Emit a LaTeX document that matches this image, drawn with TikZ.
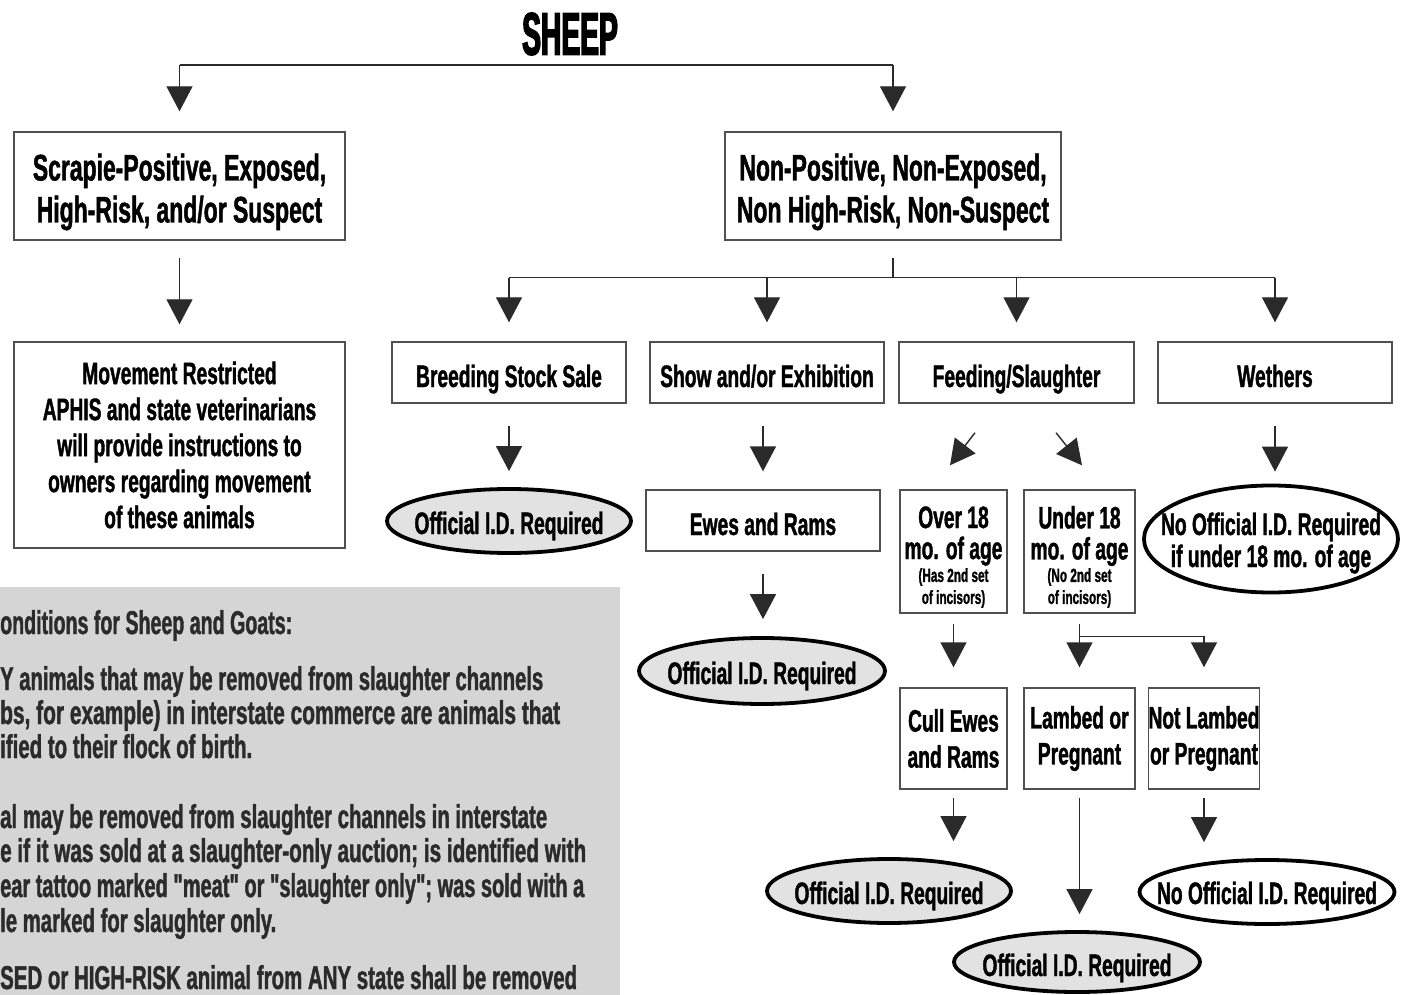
\documentclass[tikz,border=0pt]{standalone}
\usepackage{fontspec}
\usepackage{graphicx}
\setmainfont{Liberation Sans}[FakeStretch=0.62, BoldFeatures={FakeBold=1.2}]
\newfontfamily\nomapfont{Liberation Sans}[FakeStretch=0.62, BoldFeatures={FakeBold=1.2}, Ligatures=TeXOff]
\newfontfamily\titlefont{Liberation Sans}[FakeStretch=0.47,FakeBold=2.5]
\usetikzlibrary{arrows.meta,shapes.geometric,calc}
\definecolor{panelgray}{HTML}{D5D5D5}
\definecolor{ovalgray}{HTML}{E2E2E2}
\definecolor{linegray}{HTML}{2A2A2A}
\definecolor{boxgray}{HTML}{505050}
\definecolor{ptextcol}{HTML}{2B2B2B}
\newcommand{\plinefit}[2]{\resizebox{#1}{\height}{#2}}
\begin{document}
\begin{tikzpicture}[x=1pt,y=-1pt,
  box/.style={draw=boxgray, line width=1.4pt, fill=white, inner sep=0pt, align=center, font=\bfseries\fontsize{31}{36}\selectfont},
  onebox/.style={box, text height=29pt, text depth=0pt},
  oval/.style={ellipse, draw=black, line width=3.8pt, inner sep=0pt},
  grayoval/.style={oval, fill=ovalgray},
  whiteoval/.style={oval, fill=white},
  ovaltext/.style={anchor=base, inner sep=0pt, font=\bfseries\fontsize{31}{33}\selectfont},
  conn/.style={draw=linegray, line width=1.4pt},
  arr/.style={conn, -{Triangle[width=26pt,length=25pt]}},
  ptext/.style={anchor=base west, inner sep=0pt, text=ptextcol, font=\bfseries\fontsize{33}{35}\selectfont},
  bigtext/.style={inner sep=0pt, align=center, font=\bfseries\fontsize{37}{42}\selectfont},
  lbl/.style={inner sep=0pt, align=center, font=\bfseries\fontsize{31}{31}\selectfont},
  smalllbl/.style={inner sep=0pt, align=center, font=\bfseries\fontsize{19}{22}\selectfont},
]
\clip (0,0) rectangle (1401,995);
\fill[white] (0,0) rectangle (1401,995);

% ---- grey panel with notes ----
\fill[panelgray] (0,587) rectangle (620,995);
\node[ptext] (p1) at (0,634) {\plinefit{292pt}{onditions for Sheep and Goats:}};
\node[ptext] (p2) at (0,690) {\plinefit{543pt}{Y animals that may be removed from slaughter channels}};
\node[ptext] (p3) at (0,724) {\plinefit{560pt}{bs, for example) in interstate commerce are animals that}};
\node[ptext] (p4) at (0,758) {\plinefit{252pt}{ified to their flock of birth.}};
\node[ptext] (p5) at (0,828) {\plinefit{547pt}{al may be removed from slaughter channels in interstate}};
\node[ptext] (p6) at (0,862) {\plinefit{586pt}{e if it was sold at a slaughter-only auction; is identified with}};
\node[ptext] (p7) at (0,897) {\plinefit{584pt}{\nomapfont\bfseries ear tattoo marked "meat" or "slaughter only"; was sold with a}};
\node[ptext] (p8) at (0,932) {\plinefit{276pt}{le marked for slaughter only.}};
\node[ptext] (p9) at (0,989) {\plinefit{577pt}{SED or HIGH-RISK animal from ANY state shall be removed}};

% ---- title ----
\node[inner sep=0pt, font=\titlefont\bfseries\fontsize{60}{60}\selectfont] (title) at (570,34) {SHEEP};

% ---- boxes ----
\node[box, minimum width=331pt, minimum height=108pt] (b1) at (179.5,186) {};
\node[bigtext] (b1t) at (179.5,192) {Scrapie-Positive, Exposed,\\High-Risk, and/or Suspect};
\node[box, minimum width=336pt, minimum height=108pt] (b2) at (893,186) {};
\node[bigtext] (b2t) at (893,192) {Non-Positive, Non-Exposed,\\Non High-Risk, Non-Suspect};
\node[box, minimum width=331pt, minimum height=206pt] (mr) at (179.5,445) {Movement Restricted\\APHIS and state veterinarians\\will provide instructions to\\owners regarding movement\\of these animals};

\node[onebox, minimum width=234pt, minimum height=61pt] (bss) at (509,372.5) {Breeding Stock Sale};
\node[onebox, minimum width=234pt, minimum height=61pt] (show) at (767,372.5) {Show and/or Exhibition};
\node[onebox, minimum width=235pt, minimum height=61pt] (feed) at (1016.5,372.5) {Feeding/Slaughter};
\node[onebox, minimum width=234pt, minimum height=61pt] (weth) at (1275,372.5) {Wethers};

\node[onebox, minimum width=234pt, minimum height=61pt] (ewes) at (763,520.5) {Ewes and Rams};
\node[box, minimum width=107pt, minimum height=123pt] (over) at (953.5,551.5) {};
\node[box, minimum width=111pt, minimum height=123pt] (under) at (1079.5,551.5) {};
\node[lbl] (overT) at (953.5,536) {Over 18\\mo. of age};
\node[smalllbl] (overS) at (953.5,588) {(Has 2nd set\\of incisors)};
\node[lbl] (underT) at (1079.5,536) {Under 18\\mo. of age};
\node[smalllbl] (underS) at (1079.5,588) {(No 2nd set\\of incisors)};

\node[box, minimum width=107pt, minimum height=101pt] (cull) at (953.5,738.5) {Cull Ewes\\and Rams};
\node[box, minimum width=111pt, minimum height=101pt] (lamb) at (1079.5,738.5) {Lambed or\\Pregnant};
\node[box, minimum width=110pt, minimum height=101pt] (notl) at (1204,738.5) {Not Lambed\\or Pregnant};

% ---- ovals ----
\node[grayoval, minimum width=244pt, minimum height=64pt] (e1) at (509,521) {};
\node[ovaltext] (e1t) at (509,534) {Official I.D. Required};
\node[whiteoval, minimum width=254pt, minimum height=107pt] (e2) at (1271,539) {};
\node[ovaltext] (e2a) at (1271,535) {No Official I.D. Required};
\node[ovaltext] (e2b) at (1271,567) {if under 18 mo. of age};
\node[grayoval, minimum width=246pt, minimum height=66pt] (e3) at (762,671) {};
\node[ovaltext] (e3t) at (762,684) {Official I.D. Required};
\node[grayoval, minimum width=244pt, minimum height=64pt] (e4) at (889,891) {};
\node[ovaltext] (e4t) at (889,904) {Official I.D. Required};
\node[grayoval, minimum width=246pt, minimum height=60pt] (e5) at (1077,962) {};
\node[ovaltext] (e5t) at (1077,976) {Official I.D. Required};
\node[whiteoval, minimum width=255pt, minimum height=64pt] (e6) at (1267,892) {};
\node[ovaltext] (e6t) at (1267,904) {No Official I.D. Required};

% ---- connectors ----
\coordinate (topbar) at (570,65);
\draw[conn] (b1.north |- topbar) -- (b2.north |- topbar);
\draw[arr, shorten >=20pt] (b1.north |- topbar) -- (b1.north);
\draw[arr, shorten >=20pt] (b2.north |- topbar) -- (b2.north);

\draw[arr, shorten <=17pt, shorten >=17pt] (b1.south) -- (mr.north);

\coordinate (hub) at ($(b2.south)+(0,37)$);
\draw[conn] ($(b2.south)+(0,17)$) -- (hub);
\draw[conn] (hub -| bss.north) -- (hub -| weth.north);
\draw[arr, shorten >=19pt] (hub -| bss.north) -- (bss.north);
\draw[arr, shorten >=19pt] (hub -| show.north) -- (show.north);
\draw[arr, shorten >=19pt] (hub -| feed.north) -- (feed.north);
\draw[arr, shorten >=19pt] (hub -| weth.north) -- (weth.north);

\draw[arr, shorten <=22pt, shorten >=16pt] (bss.south) -- (bss.south |- e1.north);
\draw[arr, shorten <=22pt, shorten >=18pt] (ewes.north |- show.south) -- (ewes.north);
\draw[arr, shorten <=22pt, shorten >=12pt] (weth.south) -- (weth.south |- e2.north);

\draw[arr] ($(feed.south)+(-41.5,29)$) -- ($(over.north)+(-3.5,-24)$);
\draw[arr] ($(feed.south)+(39.5,29)$) -- ($(under.north)+(2.5,-24)$);

\draw[arr, shorten <=22pt, shorten >=17pt] (ewes.south) -- (ewes.south |- e3.north);
\draw[arr, shorten <=10pt, shorten >=20pt] (over.south) -- (cull.north);
\draw[arr, shorten <=10pt, shorten >=20pt] (under.south) -- (lamb.north);
\draw[arr, shorten >=20pt] ($(under.south)+(0,23)$) -| (notl.north);

\draw[arr, shorten <=8pt, shorten >=16pt] (cull.south) -- (cull.south |- e4.north);
\draw[arr, shorten <=8pt, shorten >=16pt] (lamb.south) -- (lamb.south |- e5.north);
\draw[arr, shorten <=8pt, shorten >=16pt] (notl.south) -- (notl.south |- e6.north);
\end{tikzpicture}
\end{document}
